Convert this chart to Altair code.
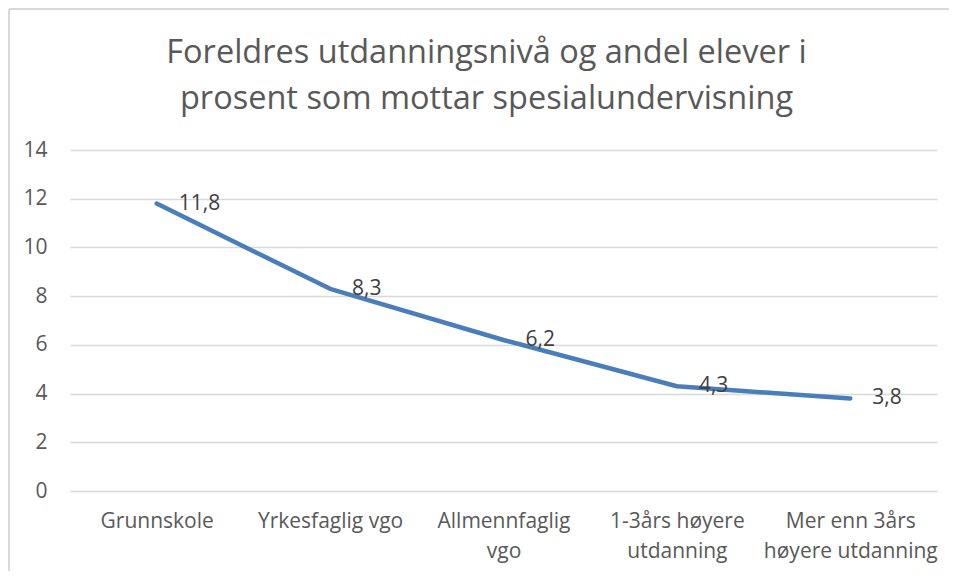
import altair as alt
import pandas as pd

categories = ["Grunnskole", "Yrkesfaglig vgo", "Allmennfaglig\nvgo",
              "1-3års høyere\nutdanning", "Mer enn 3års\nhøyere utdanning"]
values = [11.8, 8.3, 6.2, 4.3, 3.8]
value_labels = ["11,8", "8,3", "6,2", "4,3", "3,8"]
y_ticks = [0, 2, 4, 6, 8, 10, 12, 14]
title_lines = ["Foreldres utdanningsnivå og andel elever i",
               "prosent som mottar spesialundervisning"]

df = pd.DataFrame({"kat": categories, "verdi": values, "etikett": value_labels})

FONT = "Open Sans"
TEXT = "#595959"
FS = 21

x = alt.X("kat:N", sort=categories, title=None,
          scale=alt.Scale(paddingInner=0, paddingOuter=0, align=0.5),
          axis=alt.Axis(labelAngle=0, labelExpr="split(datum.label, '\\n')",
                        labelFont=FONT, labelFontSize=FS, labelColor=TEXT,
                        labelLineHeight=30, labelPadding=19,
                        ticks=False, domain=False, grid=False))
y = alt.Y("verdi:Q", title=None,
          scale=alt.Scale(domain=[0, 14], nice=False),
          axis=alt.Axis(values=y_ticks, labelFont=FONT, labelFontSize=FS,
                        labelColor=TEXT, labelPadding=23, ticks=False,
                        domain=False, gridColor="#D9D9D9", gridWidth=1.3))

left_edge = alt.Chart(df).mark_rule(color="#D9D9D9", strokeWidth=1.5).encode(
    x=alt.value(-61), y=alt.value(-141), y2=alt.value(600))
top_edge = alt.Chart(df).mark_rule(color="#D9D9D9", strokeWidth=1.5).encode(
    x=alt.value(-61), x2=alt.value(960), y=alt.value(-141))

line = alt.Chart(df).mark_line(color="#4A7EBB", strokeWidth=4.5, strokeCap="round",
                               strokeJoin="round").encode(x=x, y=y)

labels = alt.Chart(df).mark_text(align="left", baseline="middle", dx=22,
                                 font=FONT, fontSize=FS, color="#404040").encode(
    x=alt.X("kat:N", sort=categories), y="verdi:Q", text="etikett:N")

chart = alt.layer(line, labels, left_edge, top_edge).properties(
    width=867, height=341,
    background="white",
    title=alt.TitleParams(text=title_lines, font=FONT, fontSize=32.5, fontWeight="normal",
                          color=TEXT, lineHeight=46, anchor="middle", dx=-17, offset=-107),
    autosize=alt.AutoSizeParams(type="none"),
    padding={"left": 62, "top": 142, "right": 12, "bottom": 80},
).configure_view(stroke=None, strokeWidth=0)

chart.save("out.html", embed_options={"renderer": "svg", "actions": False})
